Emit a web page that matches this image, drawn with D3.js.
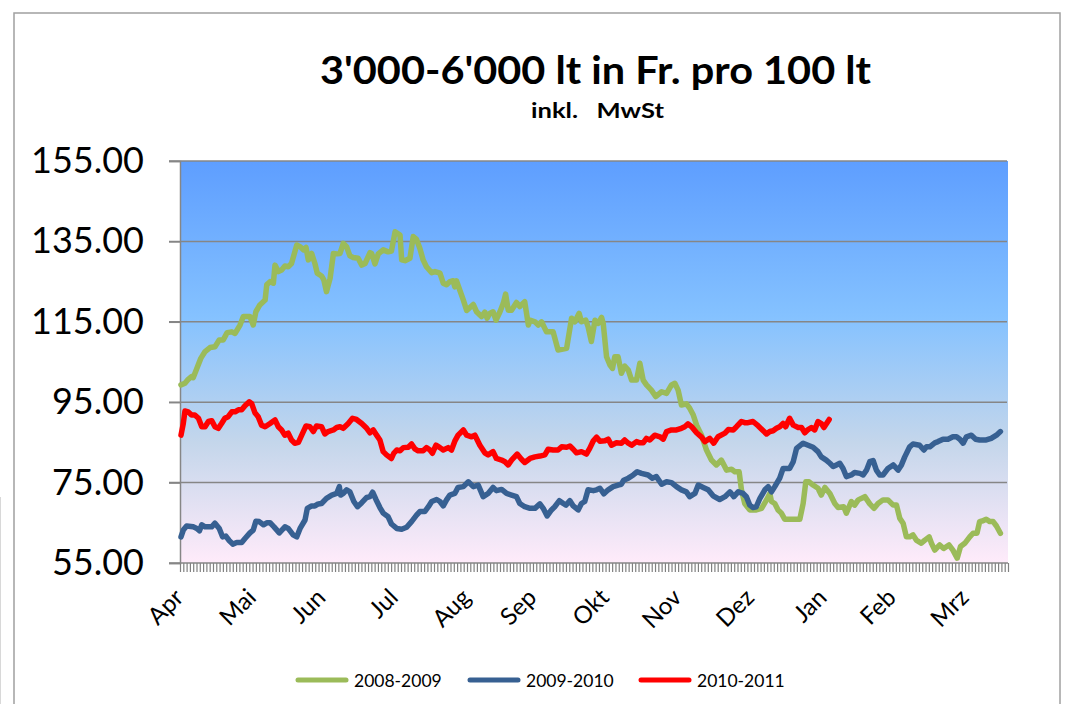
<!DOCTYPE html>
<meta charset="utf-8">
<style>
body { margin: 0; background: #fff; }
text { font-family: Lato, "Open Sans", sans-serif; fill: #000; }
</style>
<svg width="1066" height="704"></svg>
<script src="https://cdnjs.cloudflare.com/ajax/libs/d3/7.8.5/d3.min.js"></script>
<script>

  // category axis: one tick per business day, month labels at first day of month
  var dayCount = 251;
  var months = ["Apr", "Mai", "Jun", "Jul", "Aug", "Sep", "Okt", "Nov", "Dez", "Jan", "Feb", "Mrz"];
  var monthStart = [0, 22, 43, 65, 87, 107, 129, 151, 173, 195, 216, 238];
  var yTicks = [55, 75, 95, 115, 135, 155];

  var seriesNames = ["2008-2009", "2009-2010", "2010-2011"];
  var seriesColors = ["#9bbb59", "#376092", "#ff0000"];

  // [business day, Fr. per 100 lt]
  var price0809 = [
    [0.3,99.3],[1.5,99.7],[2.5,100.7],[3.5,101.4],[4.0,101.1],[5.1,103.4],[6.3,105.9],[7.6,107.6],[9.1,108.6],[10.6,108.8],
    [11.9,110.5],[13.1,110.5],[14.3,112.3],[15.7,112.5],[16.7,112.1],[18.2,114.2],[19.2,116.3],[21.2,116.3],[22.2,114.2],[23.0,117.5],
    [24.2,119.2],[25.8,120.4],[26.3,124.2],[27.3,125.0],[28.3,124.6],[28.8,129.1],[29.8,127.5],[30.8,127.9],[31.8,128.9],[32.8,128.7],
    [33.8,129.5],[35.4,134.1],[36.4,133.7],[37.4,132.9],[38.2,133.5],[38.9,130.4],[39.9,132.0],[40.9,129.5],[41.6,127.1],[42.9,126.4],
    [43.6,125.4],[44.4,122.5],[45.5,125.8],[46.5,132.0],[47.5,131.9],[48.5,132.0],[49.5,134.5],[50.5,133.7],[51.5,131.4],[52.5,131.0],
    [54.0,130.8],[55.1,129.1],[56.1,129.5],[57.6,132.2],[58.1,132.0],[59.1,129.4],[60.1,131.9],[61.6,132.9],[63.1,132.4],[64.1,132.6],
    [65.2,137.4],[66.7,136.6],[67.2,130.4],[68.2,130.2],[69.7,130.8],[70.7,136.2],[71.7,135.5],[72.7,133.3],[73.7,130.4],[74.7,128.7],
    [76.3,127.2],[77.3,127.5],[78.8,127.1],[79.8,124.6],[80.8,124.2],[81.8,125.0],[82.8,125.2],[83.3,123.7],[83.8,125.2],[84.8,122.9],
    [85.9,120.4],[86.9,117.8],
    [88.9,119.3],[89.9,117.5],[91.4,116.3],[92.4,117.4],[93.1,115.9],[93.9,117.1],[94.9,117.5],[95.8,115.4],[97.0,117.5],[98.0,119.6],
    [98.7,121.9],[99.5,117.9],[100.5,117.9],[102.0,119.8],[103.0,118.8],[104.5,120.0],[105.6,114.2],[106.1,115.4],[107.6,115.0],[108.6,114.2],
    [109.6,115.0],[111.1,112.5],[113.1,112.5],[114.6,108.0],[117.2,108.4],[118.7,115.9],[119.7,115.0],[121.0,117.1],[121.7,115.0],[123.0,115.4],
    [123.7,113.8],[124.7,110.1],[125.8,115.4],[126.8,114.6],[127.8,116.1],[128.3,114.6],[129.3,106.3],[130.3,104.3],[131.1,103.4],[131.8,106.3],
    [132.8,106.3],[133.8,102.2],[134.8,104.0],[135.9,103.0],[136.9,100.5],[138.4,100.5],[139.4,104.7],[140.4,100.5],[141.4,99.3],[142.9,98.0],
    [144.2,96.4],[146.0,97.6],[147.5,97.2],[149.0,99.3],[150.0,99.7],[151.0,98.0],[152.0,94.3],[153.5,94.6],[154.5,93.5],[155.6,91.8],
    [156.6,89.3],[158.1,86.8],[159.6,83.1],[161.1,80.6],[162.6,79.4],[164.1,80.6],
    [165.7,78.1],[167.2,78.3],[168.2,77.7],[169.5,77.7],[170.2,73.2],[171.2,69.8],[172.7,68.2],[174.7,68.2],[176.3,68.6],[177.8,70.7],
    [178.8,72.3],[179.3,70.3],[180.3,69.8],[181.3,68.2],[182.3,67.4],[183.3,65.9],[187.9,65.9],[188.9,69.8],[189.7,75.2],[190.7,75.2],
    [191.9,74.4],[193.4,73.6],[194.4,71.9],[195.5,73.8],[197.0,72.3],[198.5,69.8],[199.5,68.8],[201.2,69.0],[202.0,67.4],[203.5,70.3],
    [204.5,69.4],[205.6,70.7],[207.6,71.5],[209.1,69.7],[210.4,68.6],[211.6,69.8],[213.1,70.7],[214.6,70.7],[216.2,69.4],[217.2,69.4],
    [218.2,66.1],[219.2,64.9],[220.2,61.5],[221.2,61.5],[222.2,62.0],[223.2,60.7],[224.7,59.9],[225.8,60.7],[227.1,61.5],[227.8,59.9],
    [228.8,58.2],[230.3,59.5],[231.5,58.6],[233.1,59.5],[234.3,58.2],[235.6,56.2],[236.6,59.1],[237.9,59.9],[239.4,61.5],[240.4,62.4],
    [241.6,62.4],[242.4,65.3],[243.4,65.5],[244.4,65.9],[245.5,65.3],[246.5,65.3],[247.5,64.2],[248.7,62.4]
  ];

  var price0910 = [
    [0.3,61.5],[1.0,63.2],[2.0,64.2],[4.0,64.0],[5.1,63.6],[5.9,63.0],[6.6,64.5],[7.6,64.0],[9.6,64.0],[10.6,64.9],
    [11.9,63.6],[12.9,61.5],[13.9,61.7],[14.9,60.6],[16.0,59.7],[17.2,60.1],[18.7,60.1],[19.7,61.1],[21.2,62.5],[22.2,63.2],
    [23.0,65.4],[24.0,65.3],[25.3,64.5],[26.3,65.0],[27.3,65.0],[28.5,64.0],[30.1,62.5],[31.8,64.0],[32.8,63.6],[34.3,62.0],
    [35.4,61.5],[36.4,63.6],[37.9,65.7],[38.6,68.6],[39.9,69.2],[40.9,69.2],[41.9,69.7],[42.9,69.8],[44.4,71.1],[46.0,71.9],
    [47.5,72.3],[48.3,74.0],[48.7,71.9],[49.5,72.3],[50.5,73.2],[51.5,72.7],[52.7,70.3],[53.8,69.0],[55.1,70.0],[56.6,71.3],
    [57.6,71.5],[58.4,72.6],[59.4,70.8],[60.6,68.8],[61.6,67.4],[63.1,66.5],[64.1,64.7],[65.7,63.6],[67.2,63.4],[68.7,63.9],
    [70.2,65.3],[71.7,66.9],[72.7,67.8],[74.2,67.8],[75.3,69.0],[76.3,70.3],[77.8,70.8],[78.8,70.3],[79.8,69.2],[80.8,70.7],
    [81.8,71.9],[83.3,72.3],[84.3,73.8],[85.9,74.0],[87.4,75.2],
    [88.9,74.0],[90.4,74.4],[91.9,71.5],[93.4,72.3],[94.9,73.8],[95.9,73.0],[97.5,73.3],[99.0,72.3],[100.5,71.9],[102.0,71.5],
    [103.0,69.8],[104.5,69.0],[106.1,68.6],[107.6,68.6],[109.1,69.7],[110.1,68.6],[111.3,66.7],[112.6,68.2],[113.6,69.0],[115.0,70.5],
    [116.2,69.8],[117.0,69.4],[118.2,70.5],[119.2,69.2],[120.7,68.2],[121.7,69.8],[122.7,70.3],[123.7,73.2],[125.3,73.0],[126.3,73.2],
    [127.3,73.6],[128.5,72.2],[129.8,73.2],[131.3,74.0],[132.8,74.4],[133.8,74.6],[134.5,75.6],[135.9,76.1],[137.4,76.9],[138.6,77.7],
    [139.9,77.3],[141.9,76.9],[143.2,76.1],[144.4,76.5],[146.0,74.6],[147.5,75.2],[149.0,75.0],[150.5,74.0],[152.0,73.2],[153.5,72.7],
    [154.5,71.5],[156.1,72.3],[157.1,74.4],[158.6,73.8],[160.1,73.2],[161.6,71.7],[163.6,70.8],
    [165.2,71.5],[166.7,72.7],[167.9,71.5],[169.2,72.7],[170.7,72.3],[171.7,71.5],[172.7,69.4],[173.7,68.8],[174.7,69.0],[175.8,71.1],
    [177.3,73.2],[178.3,74.0],[179.3,72.7],[180.3,74.0],[181.8,76.1],[182.8,78.5],[184.8,78.5],[185.9,80.2],[186.9,83.5],[188.9,84.8],
    [190.4,84.3],[191.9,83.8],[193.4,82.7],[194.4,81.4],[195.9,80.6],[197.0,79.8],[198.0,79.0],[199.0,79.4],[200.0,79.8],[201.0,78.5],
    [202.0,76.5],[203.5,76.9],[204.5,77.5],[206.1,77.3],[207.1,76.9],[208.1,78.1],[209.1,80.2],[210.1,80.5],[211.1,78.1],[212.1,76.9],
    [213.1,76.9],[214.6,78.5],[216.2,79.4],[217.7,78.1],[218.7,79.4],[219.7,81.4],[221.2,83.9],[222.2,84.6],[224.2,84.3],[225.5,83.1],
    [226.3,83.9],[227.3,83.9],[228.8,84.9],[229.8,85.2],[231.3,85.8],[232.8,85.8],[234.3,86.4],[235.4,86.4],[236.4,85.8],[237.4,84.8],
    [238.4,86.4],[239.9,86.8],[241.2,85.8],[242.4,85.6],[244.4,85.6],[245.9,86.0],[247.5,86.8],[248.7,87.7]
  ];

  var price1011 = [
    [0.3,86.8],[1.0,89.7],[1.5,92.8],[2.5,92.6],[3.5,91.8],[4.5,91.8],[5.6,91.0],[6.6,88.9],[7.6,88.9],[8.6,90.2],
    [9.6,90.4],[10.6,88.9],[11.6,88.5],[12.6,89.7],[13.6,91.0],[14.6,91.4],[15.7,92.6],[16.7,92.6],[17.7,93.1],[18.7,93.1],
    [19.7,94.1],[21.0,95.1],[21.7,94.7],[22.7,92.4],[23.7,91.4],[24.7,89.3],[25.8,88.9],[27.3,89.7],[28.8,90.6],[29.8,88.9],
    [30.8,88.1],[31.8,86.8],[32.8,87.3],[33.8,85.6],[34.8,84.8],[35.9,85.0],[36.9,86.8],[38.2,89.1],[39.4,88.9],[40.4,87.7],
    [41.4,89.1],[42.9,88.9],[43.9,87.1],[44.9,87.7],[46.5,88.1],[47.5,88.7],[48.5,88.9],[49.5,88.5],[51.0,89.7],[52.3,91.0],
    [53.5,90.7],[55.1,89.7],[56.6,88.5],[57.6,87.4],[58.6,88.1],[59.6,86.8],[60.6,85.6],[61.6,82.7],[62.6,81.9],[64.1,81.0],
    [64.8,82.3],[65.7,83.1],[66.7,82.9],[67.7,83.7],[69.2,83.8],[70.2,84.6],[71.2,83.4],[72.2,82.9],[73.7,82.9],[74.7,83.7],
    [75.8,83.1],[76.5,82.3],[77.6,84.3],[78.8,83.7],[79.8,83.1],[81.3,83.7],[82.3,83.1],[83.3,85.3],[84.3,86.8],
    [85.9,88.1],[86.9,86.8],[88.4,86.4],[89.4,86.8],[90.9,84.3],[92.4,82.4],[93.4,81.9],[94.9,82.7],[95.9,81.0],[97.5,80.6],
    [98.5,80.2],[99.5,79.4],[100.5,80.6],[102.2,82.1],[103.5,80.8],[104.5,80.0],[106.1,81.0],[107.6,81.4],[109.1,81.6],[110.6,81.9],
    [111.6,83.3],[113.1,83.1],[114.6,83.1],[115.7,83.9],[117.2,83.8],[118.2,84.1],[119.2,83.3],[120.2,82.4],[121.7,82.7],[123.2,82.1],
    [124.2,83.5],[125.3,85.4],[126.3,86.3],[127.3,85.3],[128.8,85.4],[129.8,85.8],[130.8,84.3],[132.3,84.9],[133.8,84.8],[134.8,85.6],
    [135.9,84.8],[136.9,84.3],[138.4,85.2],[139.4,84.9],[140.4,84.9],[141.4,86.0],[142.4,85.6],[143.9,86.8],[145.5,86.4],[146.5,85.8],
    [147.5,87.7],[149.0,88.1],[150.5,88.1],[152.0,88.5],[153.0,88.9],[154.0,89.6],[155.1,88.9],[156.6,87.4],[158.1,86.3],[159.1,85.2],
    [160.6,86.0],[161.8,84.8],[163.1,86.4],
    [165.2,87.3],[166.2,88.2],[167.7,88.1],[168.7,88.9],[170.2,90.2],[171.2,89.9],[172.2,89.9],[173.7,90.2],[175.3,89.1],[176.8,87.9],
    [177.8,87.1],[178.8,87.7],[179.8,87.9],[180.8,88.5],[181.8,88.9],[182.8,89.7],[183.6,88.9],[184.8,91.0],[185.9,89.3],[187.4,88.7],
    [188.4,88.7],[189.4,87.4],[190.4,88.2],[191.4,88.7],[192.4,88.1],[193.4,90.2],[194.4,89.7],[195.2,88.7],[196.0,89.7],[196.8,90.7]
  ];

  var seriesData = [price0809, price0910, price1011];

  var svg = d3.select("svg");
  var plotLeft = 180, plotRight = 1008, plotTop = 161, plotBottom = 563;

  var x = d3.scaleLinear().domain([0, dayCount]).range([plotLeft, plotRight]);
  var y = d3.scaleLinear().domain([55, 155]).range([plotBottom, plotTop]);

  // outer chart frame
  svg.append("rect")
      .attr("x", 14).attr("y", 13)
      .attr("width", 1046).attr("height", 720)
      .attr("fill", "none")
      .attr("stroke", "#a0a0a0")
      .attr("stroke-width", 1.5);
  svg.append("line")
      .attr("x1", 0.5).attr("x2", 0.5)
      .attr("y1", 497).attr("y2", 704)
      .attr("stroke", "#d8d8d8");

  // plot area gradient
  var grad = svg.append("defs").append("linearGradient")
      .attr("id", "bg")
      .attr("x1", 0).attr("y1", 0).attr("x2", 0).attr("y2", 1);
  grad.append("stop").attr("offset", "0%").attr("stop-color", "#5e9eff");
  grad.append("stop").attr("offset", "39%").attr("stop-color", "#85c2ff");
  grad.append("stop").attr("offset", "70%").attr("stop-color", "#c4d6eb");
  grad.append("stop").attr("offset", "100%").attr("stop-color", "#ffebfa");

  svg.append("rect")
      .attr("x", plotLeft).attr("y", plotTop)
      .attr("width", plotRight - plotLeft).attr("height", plotBottom - plotTop)
      .attr("fill", "url(#bg)");

  // gridlines
  svg.append("g")
      .selectAll("line")
      .data(yTicks.slice(1))
      .enter().append("line")
      .attr("x1", plotLeft - 11).attr("x2", plotRight - 1)
      .attr("y1", function(d) { return y(d); })
      .attr("y2", function(d) { return y(d); })
      .attr("stroke", "#868686")
      .attr("stroke-width", 1.5);

  // y axis
  var yAxis = svg.append("g")
      .attr("transform", "translate(" + plotLeft + ",0)")
      .call(d3.axisLeft(y).tickValues(yTicks).tickSize(11).tickPadding(25)
        .tickFormat(d3.format(".2f")));
  yAxis.select(".domain").attr("stroke", "#868686").attr("stroke-width", 1.5);
  yAxis.selectAll(".tick line").attr("stroke", "#868686").attr("stroke-width", 1.5);
  yAxis.selectAll("text")
      .style("font-family", "Lato, sans-serif")
      .style("font-size", "36px")
      .attr("fill", "#000");

  // x axis with a tick per business day
  var xAxis = svg.append("g")
      .attr("transform", "translate(0," + plotBottom + ")")
      .call(d3.axisBottom(x).tickValues(d3.range(0, dayCount + 1)).tickSize(9).tickSizeOuter(0)
        .tickFormat(""));
  xAxis.select(".domain").remove();
  xAxis.selectAll(".tick line").attr("stroke", "#808080").attr("stroke-width", 1.2);
  svg.append("line")
      .attr("x1", plotLeft - 11).attr("x2", plotRight)
      .attr("y1", plotBottom).attr("y2", plotBottom)
      .attr("stroke", "#868686")
      .attr("stroke-width", 1.5);

  svg.append("g")
      .selectAll("text")
      .data(months)
      .enter().append("text")
      .attr("transform", function(d, i) {
        return "translate(" + (x(monthStart[i]) + 5) + ",599) rotate(-45)";
      })
      .attr("text-anchor", "end")
      .style("font-size", "24px")
      .text(function(d) { return d; });

  // series
  var line = d3.line()
      .x(function(d) { return x(d[0]); })
      .y(function(d) { return y(d[1]); });

  svg.append("g")
      .selectAll("path")
      .data(seriesData)
      .enter().append("path")
      .attr("d", line)
      .attr("fill", "none")
      .attr("stroke", function(d, i) { return seriesColors[i]; })
      .attr("stroke-width", 5.5)
      .attr("stroke-linejoin", "round")
      .attr("stroke-linecap", "round");

  // titles
  svg.append("text")
      .attr("x", 595.5).attr("y", 84)
      .attr("text-anchor", "middle")
      .attr("textLength", 551)
      .attr("lengthAdjust", "spacingAndGlyphs")
      .style("font-size", "39px")
      .style("font-weight", "bold")
      .text("3'000-6'000 lt in Fr. pro 100 lt");

  svg.append("text")
      .attr("x", 597.5).attr("y", 118)
      .attr("text-anchor", "middle")
      .attr("textLength", 133)
      .attr("lengthAdjust", "spacingAndGlyphs")
      .style("font-size", "20px")
      .style("font-weight", "bold")
      .style("white-space", "pre")
      .text("inkl.   MwSt");

  // legend
  var legendX = [296, 468, 639];
  var legend = svg.append("g")
      .selectAll("g")
      .data(seriesNames)
      .enter().append("g")
      .attr("transform", function(d, i) { return "translate(" + legendX[i] + ",680)"; });
  legend.append("line")
      .attr("x1", 2).attr("x2", 50)
      .attr("stroke", function(d, i) { return seriesColors[i]; })
      .attr("stroke-width", 5)
      .attr("stroke-linecap", "round");
  legend.append("text")
      .attr("x", 58).attr("y", 7)
      .style("font-size", "17.5px")
      .text(function(d) { return d; });

</script>
